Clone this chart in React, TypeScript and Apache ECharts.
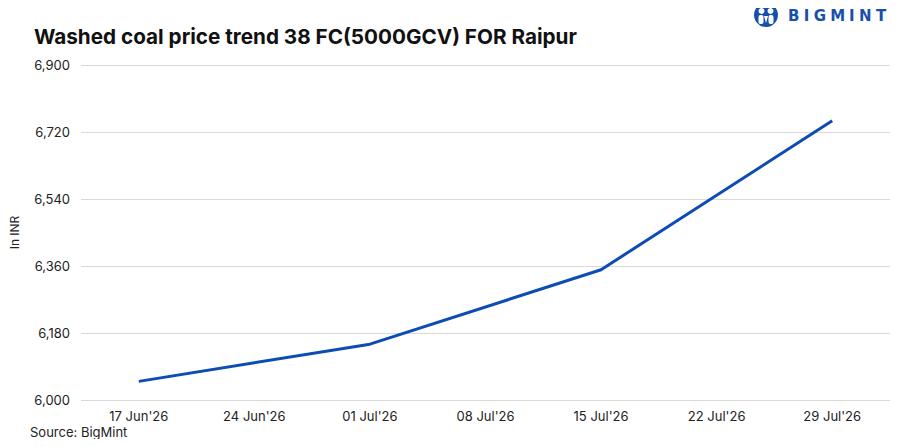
import React, { useEffect, useRef } from "react";
import * as echarts from "echarts";

const categories = ["17 Jun'26", "24 Jun'26", "01 Jul'26", "08 Jul'26", "15 Jul'26", "22 Jul'26", "29 Jul'26"];
const prices: (number | null)[] = [6050, null, 6150, null, 6350, null, 6750];
const yMin = 6000;
const yMax = 6900;
const yInterval = 180;

const logoLetters = ["B", "I", "G", "M", "I", "N", "T"];
const logoCenters = [793.7, 806.6, 820, 837.6, 851.9, 865.4, 881.1];

export default function App() {
  const ref = useRef<HTMLDivElement>(null);
  useEffect(() => {
    if (!ref.current) return;
    const chart = echarts.init(ref.current, null, { renderer: "svg" });
    const font = "Inter, 'Noto Sans', sans-serif";
    chart.setOption({
      animation: false,
      backgroundColor: "#ffffff",
      textStyle: { fontFamily: font },
      title: {
        text: "Washed coal price trend 38 FC(5000GCV) FOR Raipur",
        left: 29,
        top: 21,
        textStyle: { fontFamily: font, fontSize: 20.7, fontWeight: "bold", color: "#111111" },
      },
      grid: { left: 77, right: 10, top: 65, bottom: 47 },
      xAxis: {
        type: "category",
        data: categories,
        boundaryGap: true,
        axisLine: { show: false },
        axisTick: { show: false },
        axisLabel: { color: "#222222", fontSize: 13, margin: 9, fontFamily: font },
      },
      yAxis: {
        type: "value",
        min: yMin,
        max: yMax,
        interval: yInterval,
        name: "In INR",
        nameLocation: "middle",
        nameRotate: 90,
        nameGap: 61,
        nameTextStyle: { color: "#222222", fontSize: 12, fontFamily: font },
        axisLine: { show: false },
        axisTick: { show: false },
        splitLine: { lineStyle: { color: "#d9d9d9", width: 1 } },
        axisLabel: {
          color: "#222222",
          fontSize: 13,
          margin: 11,
          fontFamily: font,
          formatter: (v: number) => v.toLocaleString("en-US"),
        },
      },
      series: [
        {
          type: "line",
          data: prices,
          connectNulls: true,
          showSymbol: false,
          symbol: "none",
          lineStyle: { color: "#0b4db3", width: 3 },
        },
      ],
      graphic: [
        {
          type: "group",
          left: 754,
          top: 3,
          children: [
            { type: "circle", shape: { cx: 12, cy: 12, r: 12 }, style: { fill: "#1750a8" } },
            { type: "circle", shape: { cx: 7.5, cy: 8, r: 3 }, style: { fill: "#ffffff" } },
            { type: "circle", shape: { cx: 16.5, cy: 8, r: 3 }, style: { fill: "#ffffff" } },
            { type: "rect", shape: { x: 4.5, y: 12, width: 5, height: 9, r: 2 }, style: { fill: "#ffffff" } },
            { type: "rect", shape: { x: 14.5, y: 12, width: 5, height: 9, r: 2 }, style: { fill: "#ffffff" } },
            { type: "polygon", shape: { points: [[10, 13], [14, 13], [12, 20]] }, style: { fill: "#ffffff" } },
          ],
        },
        ...logoLetters.map((ch, i) => ({
          type: "text",
          x: logoCenters[i],
          y: 15.5,
          style: {
            text: ch,
            fill: "#1750a8",
            font: "bold 15px 'DejaVu Sans', sans-serif",
            align: "center",
            verticalAlign: "middle",
          },
        })),
        {
          type: "text",
          left: 30,
          top: 425,
          style: { text: "Source: BigMint", fill: "#222222", font: "13px " + font },
        },
      ],
    });
    return () => chart.dispose();
  }, []);
  return <div ref={ref} style={{ width: 900, height: 447, margin: -8 }} />;
}
